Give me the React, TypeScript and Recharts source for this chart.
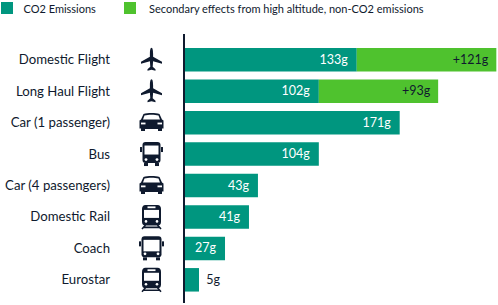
import { BarChart, Bar, XAxis, YAxis, LabelList } from 'recharts';

const categories = [
  'Domestic Flight',
  'Long Haul Flight',
  'Car (1 passenger)',
  'Bus',
  'Car (4 passengers)',
  'Domestic Rail',
  'Coach',
  'Eurostar',
];
const icons = ['plane', 'plane', 'car', 'bus', 'car', 'train', 'coach', 'train'];

// the printed figures and the drawn bar lengths disagree in the source picture,
// so lengths are read off the bars and the labels are kept as printed
const co2Lengths = [134.8, 105.2, 168.3, 105.2, 57.7, 50.7, 32, 11.7];
const secondaryLengths = [108.9, 93.1, 0, 0, 0, 0, 0, 0];
const co2Labels = ['133g', '102g', '171g', '104g', '43g', '41g', '27g', '5g'];
const secondaryLabels = ['+121g', '+93g', '', '', '', '', '', ''];

const legendItems = [
  { name: 'CO2 Emissions', color: '#00967f', swatchX: 1, textX: 23.5 },
  { name: 'Secondary effects from high altitude, non-CO2 emissions', color: '#4fc22e', swatchX: 124, textX: 149 },
];

const data = categories.map((name, i) => ({
  name,
  co2: co2Lengths[i],
  secondary: secondaryLengths[i],
}));

const FONT = 'Lato, sans-serif';
const DARK = '#0f1a2e';

function Icon({ type, x, y }: { type: string; x: number; y: number }) {
  if (type === 'plane') {
    return (
      <g transform={`translate(${x},${y})`} fill={DARK}>
        <path d="M0,-12 C1.2,-12 1.6,-9 1.6,-6 L1.6,-3 L10.5,2 L10.5,4 L1.6,1.5 L1.2,7 L4,9.5 L4,11 L0,10 L-4,11 L-4,9.5 L-1.2,7 L-1.6,1.5 L-10.5,4 L-10.5,2 L-1.6,-3 L-1.6,-6 C-1.6,-9 -1.2,-12 0,-12 Z" />
      </g>
    );
  }
  if (type === 'car') {
    return (
      <g transform={`translate(${x},${y})`}>
        <path fill={DARK} d="M-8,-8.5 C-4,-9.8 4,-9.8 8,-8.5 L10.5,-3 L12,-2 L12,6 L10.5,6 L10.5,8.5 L6.5,8.5 L6.5,6.5 L-6.5,6.5 L-6.5,8.5 L-10.5,8.5 L-10.5,6 L-12,6 L-12,-2 L-10.5,-3 Z" />
        <path fill="#fff" d="M-7,-7 C-3,-8 3,-8 7,-7 L8.5,-3 L-8.5,-3 Z" />
        <rect x={-10.5} y={0} width={4.5} height={1.8} fill="#fff" />
        <rect x={6} y={0} width={4.5} height={1.8} fill="#fff" />
      </g>
    );
  }
  if (type === 'train') {
    return (
      <g transform={`translate(${x},${y})`}>
        <path fill={DARK} d="M-6,-12 L6,-12 C8.5,-12 9.5,-10 9.5,-8 L9.5,5 C9.5,7.5 8,8.5 6,8.5 L-6,8.5 C-8,8.5 -9.5,7.5 -9.5,5 L-9.5,-8 C-9.5,-10 -8.5,-12 -6,-12 Z" />
        <rect x={-7.5} y={-7} width={15} height={8} fill="#fff" />
        <rect x={-4} y={-10.5} width={8} height={1.8} fill="#fff" />
        <circle cx={-5.5} cy={4.5} r={1.3} fill="#fff" />
        <circle cx={5.5} cy={4.5} r={1.3} fill="#fff" />
        <path stroke={DARK} strokeWidth={1.6} d="M-6,8 L-9.5,12 M6,8 L9.5,12 M-8,10.5 L8,10.5" />
      </g>
    );
  }
  // bus and coach share a body, the coach is wider with a bigger windscreen
  const w = type === 'coach' ? 10 : 9;
  return (
    <g transform={`translate(${x},${y})`}>
      <rect x={-w} y={-12} width={w * 2} height={21} rx={3} fill={DARK} />
      <rect x={-w + 2} y={-8.5} width={w * 2 - 4} height={type === 'coach' ? 11.5 : 9} fill="#fff" />
      <rect x={-w - 2.5} y={-7} width={2} height={5} fill={DARK} />
      <rect x={w + 0.5} y={-7} width={2} height={5} fill={DARK} />
      <circle cx={-w + 3.5} cy={5.5} r={1.4} fill="#fff" />
      <circle cx={w - 3.5} cy={5.5} r={1.4} fill="#fff" />
      <rect x={-w + 1.5} y={9} width={4} height={3} fill={DARK} />
      <rect x={w - 5.5} y={9} width={4} height={3} fill={DARK} />
    </g>
  );
}

function CategoryTick({ y, payload, index }: any) {
  return (
    <g>
      <text
        x={110}
        y={y - 0.5}
        textAnchor="end"
        dominantBaseline="central"
        fontFamily={FONT}
        fontSize={13.2}
        fill={DARK}
      >
        {payload.value}
      </text>
      <Icon type={icons[index]} x={151.5} y={y} />
    </g>
  );
}

function Co2Label({ x, y, width, height, index }: any) {
  const text = co2Labels[index];
  // the last bar is too short to hold its label
  const outside = index === co2Labels.length - 1;
  return (
    <text
      x={outside ? x + width + 21 : x + width - 9}
      y={y + height / 2 - 0.5}
      textAnchor="end"
      dominantBaseline="central"
      fontFamily={FONT}
      fontSize={12.5}
      fill={outside ? DARK : '#fff'}
    >
      {text}
    </text>
  );
}

function SecondaryLabel({ x, y, width, height, index }: any) {
  const text = secondaryLabels[index];
  if (!text) return null;
  return (
    <text
      x={x + width - 8}
      y={y + height / 2 - 0.5}
      textAnchor="end"
      dominantBaseline="central"
      fontFamily={FONT}
      fontSize={12.5}
      fill={DARK}
    >
      {text}
    </text>
  );
}

export default function App() {
  return (
    <div style={{ position: 'absolute', left: 0, top: 0, width: 498, height: 305, background: '#fff' }}>
      {/* Legend */}
      {legendItems.map((item) => (
        <div key={item.name}>
          <div
            style={{
              position: 'absolute',
              left: item.swatchX,
              top: 2,
              width: 12,
              height: 12,
              background: item.color,
            }}
          />
          <div
            style={{
              position: 'absolute',
              left: item.textX,
              top: 1,
              fontFamily: FONT,
              fontSize: 11,
              lineHeight: '15px',
              color: DARK,
              whiteSpace: 'nowrap',
            }}
          >
            {item.name}
          </div>
        </div>
      ))}

      <BarChart
        width={498}
        height={305}
        data={data}
        layout="vertical"
        margin={{ top: 34, right: 0, bottom: 2, left: 0 }}
        barSize={23.5}
        style={{ position: 'absolute', left: 0, top: 0 }}
      >
        <XAxis type="number" domain={[0, 245]} hide />
        <YAxis
          type="category"
          dataKey="name"
          width={184}
          padding={{ top: 10, bottom: 7.5 }}
          axisLine={{ stroke: DARK, strokeWidth: 2 }}
          tickLine={false}
          interval={0}
          tick={<CategoryTick />}
        />
        <Bar dataKey="co2" stackId="a" fill="#00967f" isAnimationActive={false}>
          <LabelList dataKey="co2" content={<Co2Label />} />
        </Bar>
        <Bar dataKey="secondary" stackId="a" fill="#4fc22e" isAnimationActive={false}>
          <LabelList dataKey="secondary" content={<SecondaryLabel />} />
        </Bar>
      </BarChart>
    </div>
  );
}
